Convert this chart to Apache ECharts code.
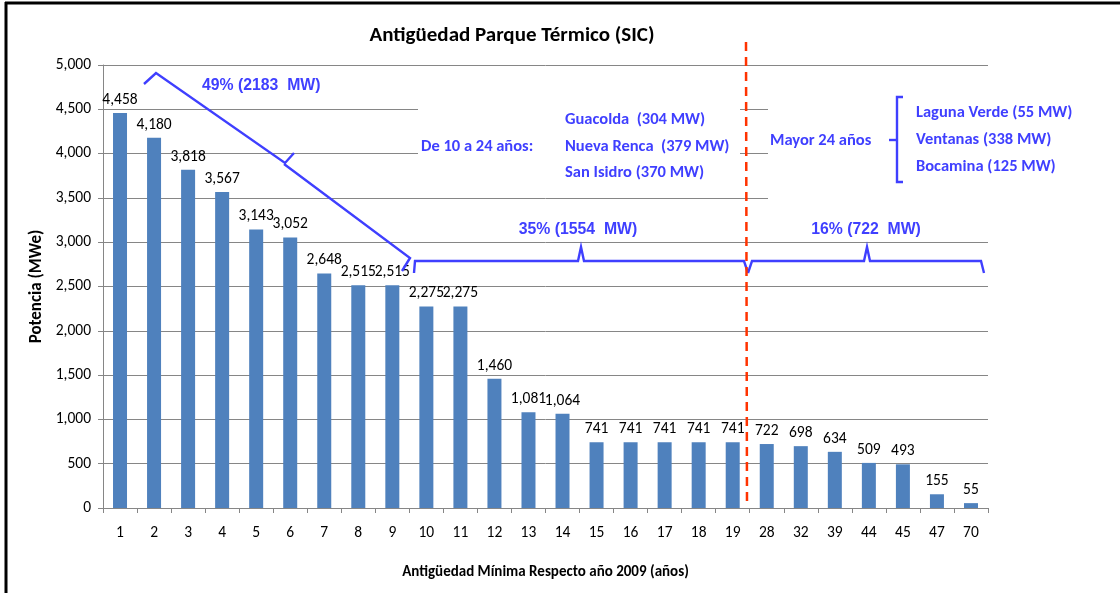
<!DOCTYPE html>
<html>
<head>
<meta charset="utf-8">
<script src="https://cdn.jsdelivr.net/npm/echarts@6/dist/echarts.min.js"></script>
<style>
  html, body { margin: 0; padding: 0; background: #fff; }
  #main { width: 1120px; height: 593px; }
</style>
</head>
<body>
<div id="main"></div>
<script>
// antiguedad minima (anios) y potencia instalada (MWe)
var years = ['1', '2', '3', '4', '5', '6', '7', '8', '9', '10', '11', '12', '13',
  '14', '15', '16', '17', '18', '19', '28', '32', '39', '44', '45', '47', '70']
var potencia = [4458, 4180, 3818, 3567, 3143, 3052, 2648, 2515, 2515, 2275, 2275, 1460, 1081,
  1064, 741, 741, 741, 741, 741, 722, 698, 634, 509, 493, 155, 55]

var FONT = 'Carlito, Lato, sans-serif'
var ARIAL = '"Liberation Sans", Arial, sans-serif'
var BLUE = '#3f3fff'

var chart = echarts.init(document.getElementById('main'))

function fmt (v) {
  return Number(v).toLocaleString('en-US')
}

function txt (x, y, s, opts) {
  return {
    type: 'text',
    z: 20,
    x: x,
    y: y,
    style: Object.assign({
      text: s,
      fill: BLUE,
      font: 'bold 16.5px ' + FONT,
      textVerticalAlign: 'middle'
    }, opts || {})
  }
}

function line (pts, opts) {
  return {
    type: 'polyline',
    z: 15,
    shape: { points: pts },
    style: Object.assign({ stroke: BLUE, lineWidth: 2.4, fill: null }, opts || {})
  }
}

chart.setOption({
  animation: false,
  title: {
    text: 'Antigüedad Parque Térmico (SIC)',
    left: 507,
    top: 20,
    textAlign: 'center',
    textStyle: { fontFamily: FONT, fontSize: 21, fontWeight: 'bold', color: '#000' }
  },
  grid: { left: 103, right: 132, top: 65, bottom: 85 },
  xAxis: {
    type: 'category',
    data: years,
    name: 'Antigüedad Mínima Respecto año 2009 (años)',
    nameLocation: 'middle',
    nameGap: 57,
    nameTextStyle: { fontFamily: FONT, fontSize: 15, fontWeight: 'bold', color: '#000' },
    axisLine: { lineStyle: { color: '#868686', width: 1 } },
    axisTick: { show: true, alignWithLabel: false, length: 5, lineStyle: { color: '#868686' } },
    axisLabel: { margin: 17, fontFamily: FONT, fontSize: 15.5, color: '#000' }
  },
  yAxis: {
    type: 'value',
    min: 0,
    max: 5000,
    interval: 500,
    name: 'Potencia (MWe)',
    nameLocation: 'middle',
    nameGap: 58,
    nameTextStyle: { fontFamily: FONT, fontSize: 17, fontWeight: 'bold', color: '#000' },
    axisLine: { show: true, lineStyle: { color: '#868686', width: 1 } },
    axisTick: { show: true, length: 5, lineStyle: { color: '#868686' } },
    axisLabel: { margin: 12, fontFamily: FONT, fontSize: 15.5, color: '#000', formatter: fmt },
    splitLine: { lineStyle: { color: '#868686', width: 1 } }
  },
  series: [{
    type: 'bar',
    data: potencia,
    barWidth: 14,
    itemStyle: { color: '#4f81bd' },
    label: {
      show: true,
      position: 'top',
      distance: 5,
      fontFamily: FONT,
      fontSize: 15.5,
      color: '#000',
      formatter: function (p) { return fmt(p.value) }
    }
  }],
  graphic: [
    // cajas de texto blancas que tapan las lineas de grilla
    { type: 'rect', z: 5, shape: { x: 418, y: 72, width: 322, height: 116 }, style: { fill: '#fff' } },
    { type: 'rect', z: 5, shape: { x: 768, y: 72, width: 230, height: 132 }, style: { fill: '#fff' } },
    // marco
    { type: 'line', z: 30, shape: { x1: 5, y1: 3, x2: 1120, y2: 3 }, style: { stroke: '#000', lineWidth: 3 } },
    { type: 'line', z: 30, shape: { x1: 6, y1: 2, x2: 6, y2: 593 }, style: { stroke: '#000', lineWidth: 3 } },
    // linea roja segmentada
    { type: 'line', z: 16, shape: { x1: 746, y1: 42, x2: 747, y2: 506 }, style: { stroke: '#ff3300', lineWidth: 2.5, lineDash: [9, 6] } },
    // llave diagonal 49%
    line([[144, 84], [156, 73], [285, 163], [294, 153]]),
    line([[284, 164], [410, 258], [402, 271]]),
    // llave 35%
    line([[414, 273], [415, 261], [578, 261], [581, 247], [584, 261], [744, 261], [748, 273]]),
    // llave 16%
    line([[748, 273], [752, 261], [864, 261], [867, 247], [870, 261], [981, 261], [984, 273]]),
    // llave Mayor 24
    line([[903, 97], [897, 97], [897, 182], [903, 182]]),
    line([[889, 140], [897, 140]]),
    // textos
    txt(202, 86, '49% (2183  MW)', { font: 'bold 15.8px ' + ARIAL }),
    txt(578, 230, '35% (1554  MW)', { font: 'bold 15.8px ' + ARIAL, textAlign: 'center' }),
    txt(866, 230, '16% (722  MW)', { font: 'bold 15.8px ' + ARIAL, textAlign: 'center' }),
    txt(421, 147, 'De 10 a 24 años:'),
    txt(565, 120, 'Guacolda  (304 MW)'),
    txt(565, 147, 'Nueva Renca  (379 MW)'),
    txt(565, 173, 'San Isidro (370 MW)'),
    txt(770, 141, 'Mayor 24 años'),
    txt(916, 113, 'Laguna Verde (55 MW)'),
    txt(916, 140, 'Ventanas (338 MW)'),
    txt(916, 167, 'Bocamina (125 MW)')
  ]
})
</script>
</body>
</html>
